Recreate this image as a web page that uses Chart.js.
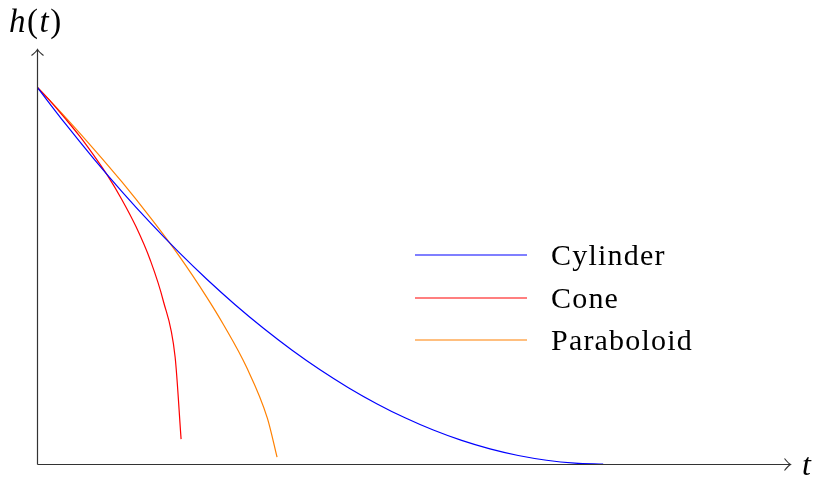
<!DOCTYPE html>
<html>
<head>
<meta charset="utf-8">
<script src="https://cdn.jsdelivr.net/npm/chart.js@4.4.0/dist/chart.umd.min.js"></script>
<style>
html,body{margin:0;padding:0;background:#fff;}
#wrap{width:815px;height:479px;position:relative;}
</style>
</head>
<body>
<div id="wrap"><canvas id="c" width="815" height="479"></canvas></div>
<script>
// Data (t in arbitrary units, h normalised to initial height 1)
const seriesNames = ["Cylinder", "Cone", "Paraboloid"];
const cylinderT = [0,0.5,1,1.5,2,2.5,3,3.5,4,4.5,5,5.5,6,6.5,7,7.5,8,8.5,9,9.5,10];
const cylinderH = [1,0.9025,0.81,0.7225,0.64,0.5625,0.49,0.4225,0.36,0.3025,0.25,0.2025,0.16,0.1225,0.09,0.0625,0.04,0.0225,0.01,0.0025,0];
const coneT = [0,0.25,0.5,0.75,1,1.25,1.5,1.75,2,2.23,2.44,2.545];
const coneH = [1,0.96,0.916,0.87,0.819,0.764,0.701,0.629,0.541,0.433,0.283,0.066];
const paraT = [0,0.5,1,1.5,2,2.5,3,3.3,3.7,4.07,4.24];
const paraH = [1,0.92,0.836,0.748,0.654,0.554,0.442,0.368,0.257,0.121,0.018];
const seriesColors = ["#0000ff", "#ff0000", "#ff8000"];
const xMax = 13.3, yMax = 1.098;

function pts(xs, ys){ return xs.map((x,i)=>({x:x, y:ys[i]})); }

const SERIF = '"Liberation Serif", "DejaVu Serif", "Times New Roman", serif';

const axesPlugin = {
  id:'axes',
  afterDatasetsDraw(chart){
    const ctx = chart.ctx, xs = chart.scales.x, ys = chart.scales.y;
    const x0 = Math.round(xs.getPixelForValue(0)) + 0.5;
    const y0 = Math.round(ys.getPixelForValue(0)) + 0.5;
    const xE = xs.getPixelForValue(xMax);
    const yE = ys.getPixelForValue(yMax);
    ctx.save();
    ctx.strokeStyle = '#333';
    ctx.lineWidth = 1.2;
    ctx.beginPath();
    ctx.moveTo(x0, y0); ctx.lineTo(xE, y0);
    ctx.moveTo(x0, y0); ctx.lineTo(x0, yE);
    ctx.stroke();
    // arrow heads (latex "to" style)
    ctx.beginPath();
    ctx.moveTo(xE-5.5, y0-6); ctx.quadraticCurveTo(xE-1.5, y0-1, xE+0.5, y0);
    ctx.quadraticCurveTo(xE-1.5, y0+1, xE-5.5, y0+6);
    ctx.moveTo(x0-6, yE+5.5); ctx.quadraticCurveTo(x0-1, yE+1.5, x0, yE-0.5);
    ctx.quadraticCurveTo(x0+1, yE+1.5, x0+6, yE+5.5);
    ctx.stroke();
    // axis labels
    ctx.fillStyle = '#000';
    ctx.textBaseline = 'alphabetic';
    const fs = 33;
    let x = 9;
    [['h',true],['(',false],['t',true],[')',false]].forEach(([s,it])=>{
      ctx.font = (it?'italic ':'') + fs + 'px ' + SERIF;
      ctx.fillText(s, x, 32);
      x += ctx.measureText(s).width + 1.5;
    });
    ctx.font = 'italic 32px ' + SERIF;
    ctx.fillText('t', xE + 12, y0 + 10);
    // legend
    const ly = [255, 298, 340];
    ctx.lineWidth = 1.2;
    ctx.font = '30px ' + SERIF;
    if ('letterSpacing' in ctx) ctx.letterSpacing = '1.2px';
    seriesNames.forEach((n,i)=>{
      ctx.strokeStyle = seriesColors[i];
      ctx.beginPath(); ctx.moveTo(415, ly[i]); ctx.lineTo(527, ly[i]); ctx.stroke();
      ctx.fillStyle = '#000';
      ctx.fillText(n, 551, ly[i] + 10);
    });
    ctx.restore();
  }
};

new Chart(document.getElementById('c'), {
  type:'scatter',
  data:{
    datasets:[
      {label:seriesNames[0], data:pts(cylinderT, cylinderH), borderColor:seriesColors[0]},
      {label:seriesNames[1], data:pts(coneT, coneH), borderColor:seriesColors[1]},
      {label:seriesNames[2], data:pts(paraT, paraH), borderColor:seriesColors[2]}
    ].map(d=>Object.assign(d,{showLine:true, pointRadius:0, borderWidth:1.2, cubicInterpolationMode:'monotone', fill:false}))
  },
  options:{
    responsive:false, animation:false,
    layout:{padding:{left:37, right:25, top:50, bottom:15}},
    plugins:{legend:{display:false}, tooltip:{enabled:false}},
    scales:{
      x:{type:'linear', min:0, max:xMax, display:false},
      y:{type:'linear', min:0, max:yMax, display:false}
    }
  },
  plugins:[axesPlugin]
});
</script>
</body>
</html>
